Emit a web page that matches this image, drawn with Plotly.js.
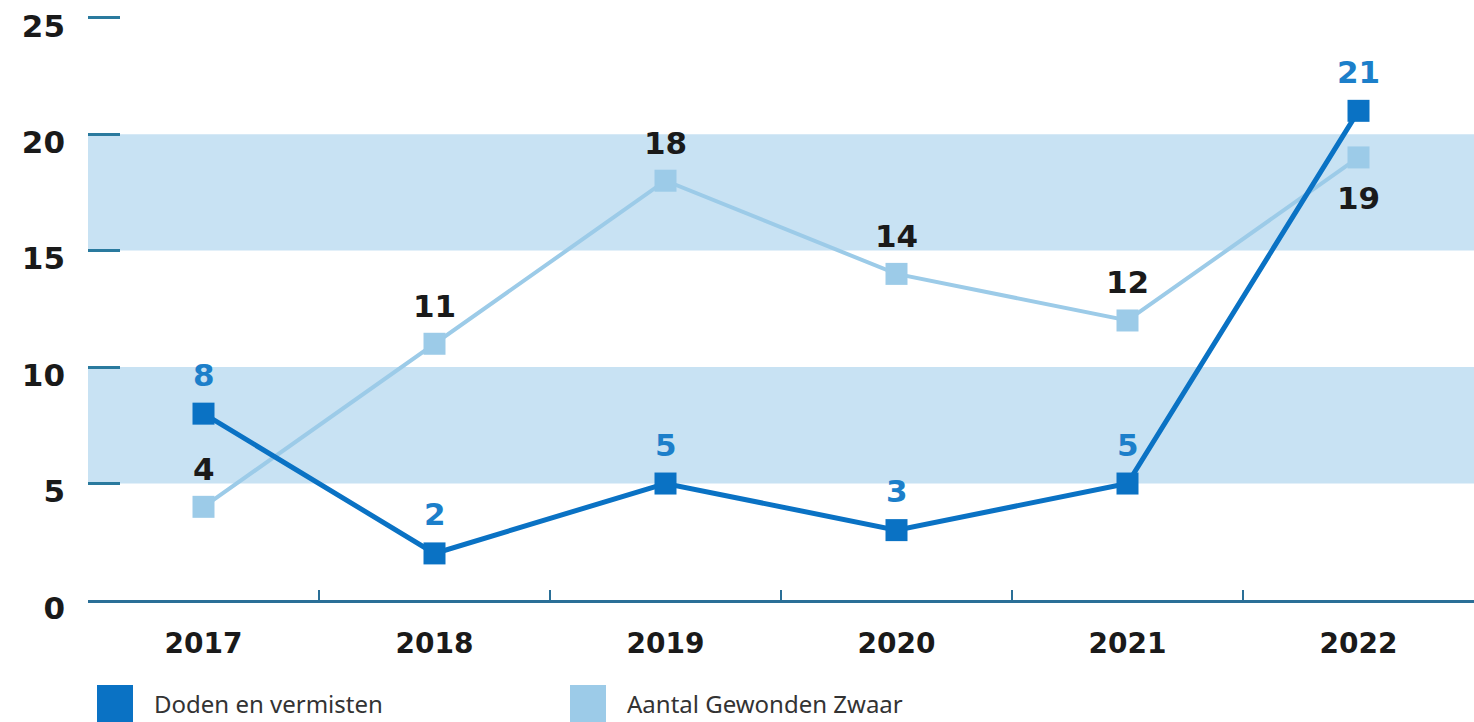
<!DOCTYPE html>
<html>
<head>
<meta charset="utf-8">
<script src="https://cdn.plot.ly/plotly-3.0.1.min.js"></script>
<style>html,body{margin:0;padding:0;background:#fff;}#chart{width:1474px;height:722px;}</style>
</head>
<body>
<div id="chart"></div>
<script>
const years = ['2017', '2018', '2019', '2020', '2021', '2022'];
const doden = [8, 2, 5, 3, 5, 21];
const gewonden = [4, 11, 18, 14, 12, 19];
const seriesNames = ['Doden en vermisten', 'Aantal Gewonden Zwaar'];
const yTicks = [0, 5, 10, 15, 20, 25];
const bands = [[5, 10], [15, 20]];

const darkBlue = '#0a72c4';
const lightBlue = '#9ccbe8';
const bandColor = '#c8e2f3';
const axisColor = '#2a6f97';
const numFont = 'DejaVu Sans, sans-serif';

// label placement for the light series (above unless noted)
const lightBelow = years.map((y, i) => i === years.length - 1);

const traces = [
  {
    x: years, y: gewonden, name: seriesNames[1], type: 'scatter', mode: 'lines+markers',
    line: {color: lightBlue, width: 4},
    marker: {symbol: 'square', size: 22, color: lightBlue},
    cliponaxis: false, showlegend: false, hoverinfo: 'skip'
  },
  {
    x: years, y: doden, name: seriesNames[0], type: 'scatter', mode: 'lines+markers',
    line: {color: darkBlue, width: 5},
    marker: {symbol: 'square', size: 22, color: darkBlue},
    cliponaxis: false, showlegend: false, hoverinfo: 'skip'
  }
];

const annotations = [];
years.forEach((yr, i) => {
  annotations.push({
    x: i, y: doden[i], xref: 'x', yref: 'y', text: '<b>' + doden[i] + '</b>',
    showarrow: false, yshift: 39,
    font: {family: numFont, size: 31, color: '#1c7fca'}
  });
  annotations.push({
    x: i, y: gewonden[i], xref: 'x', yref: 'y', text: '<b>' + gewonden[i] + '</b>',
    showarrow: false, yshift: lightBelow[i] ? -41 : 38,
    font: {family: numFont, size: 31, color: '#1a1a1a'}
  });
});

// legend
const yMax = 25.2;
const unit = 23.28;
const topPx = 600 - yMax * unit;
const plotW = 1474 - 88, plotH = 600 - topPx;
const px = v => (v - 88) / plotW;
const py = v => (600 - v) / plotH;
const legendColors = [darkBlue, lightBlue];
const legendX = [97, 570];
const shapes = bands.map(b => ({
  type: 'rect', xref: 'paper', yref: 'y', x0: 0, x1: 1, y0: b[0], y1: b[1],
  fillcolor: bandColor, line: {width: 0}, layer: 'below'
}));
seriesNames.forEach((n, i) => {
  shapes.push({
    type: 'rect', xref: 'paper', yref: 'paper',
    x0: px(legendX[i]), x1: px(legendX[i] + 36), y0: py(722), y1: py(685),
    fillcolor: legendColors[i], line: {width: 0}
  });
  annotations.push({
    xref: 'paper', yref: 'paper', x: px(legendX[i] + 55), y: py(703),
    xanchor: 'left', yanchor: 'middle', text: n, showarrow: false,
    font: {family: 'Noto Sans, sans-serif', size: 24, color: '#333333'}
  });
});

const layout = {
  width: 1474, height: 722,
  margin: {l: 88, r: 0, t: topPx, b: 122},
  paper_bgcolor: '#ffffff', plot_bgcolor: '#ffffff',
  showlegend: false,
  xaxis: {
    type: 'category', range: [-0.5, 5.5], tickson: 'boundaries',
    ticks: 'inside', ticklen: 10, tickwidth: 2, tickcolor: axisColor,
    showline: true, linecolor: axisColor, linewidth: 3,
    showgrid: false, zeroline: false, ticklabelstandoff: 16,
    tickfont: {family: numFont, size: 28, color: '#1a1a1a', weight: 'bold'}
  },
  yaxis: {
    range: [0, yMax], tickvals: yTicks, ticktext: yTicks.map(String),
    ticks: 'inside', ticklen: 32, tickwidth: 3, tickcolor: '#2a7a9e',
    showline: false, showgrid: false, zeroline: false, ticklabelstandoff: 22,
    ticklabelshift: 8,
    tickfont: {family: numFont, size: 31, color: '#1a1a1a', weight: 'bold'}
  },
  shapes: shapes,
  annotations: annotations
};

Plotly.newPlot('chart', traces, layout, {staticPlot: true, displayModeBar: false});
</script>
</body>
</html>
